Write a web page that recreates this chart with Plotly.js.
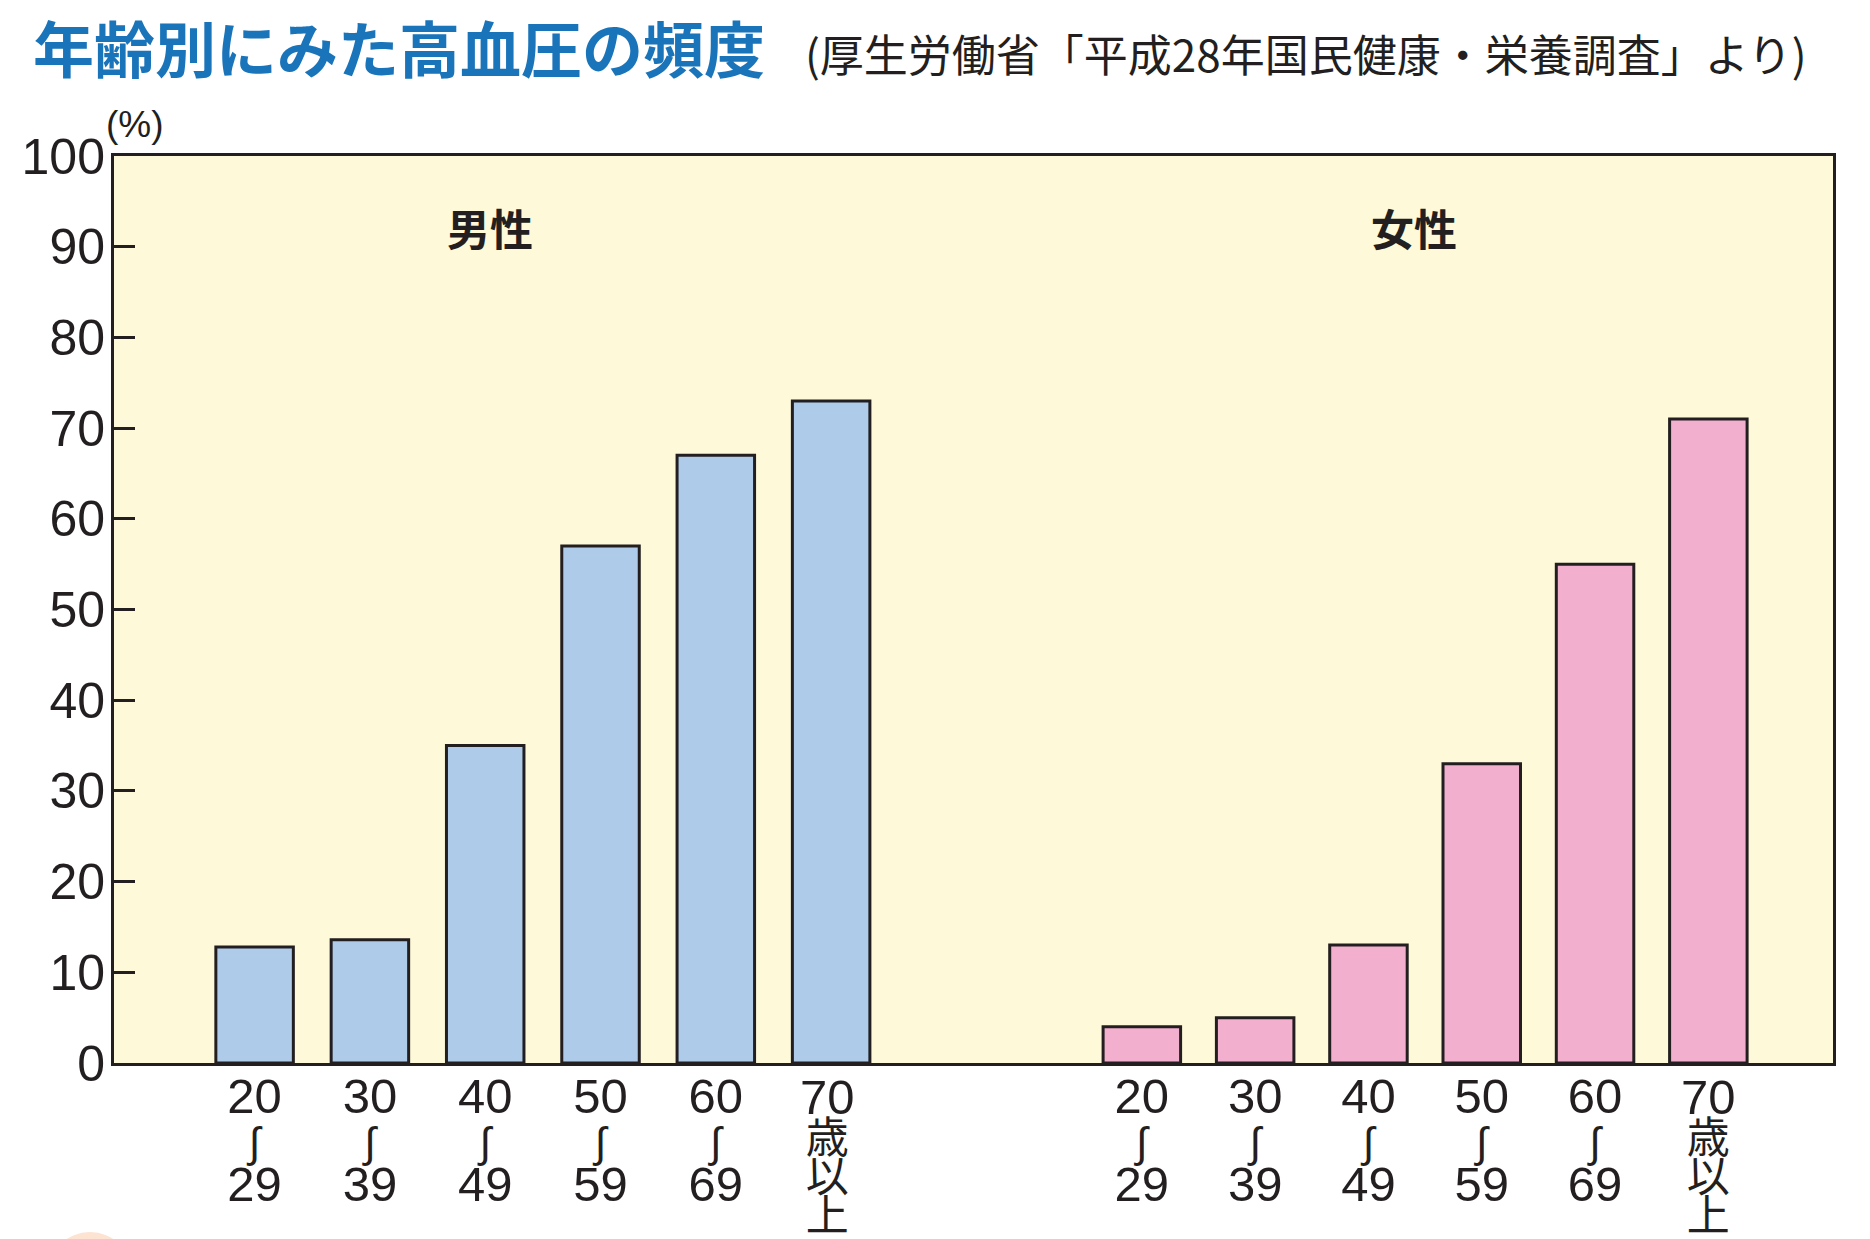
<!DOCTYPE html>
<html>
<head>
<meta charset="utf-8">
<script src="https://cdn.plot.ly/plotly-3.0.1.min.js"></script>
<style>
  html, body { margin: 0; padding: 0; background: #ffffff; }
  #chart { width: 1870px; height: 1239px; }
</style>
</head>
<body>
<div id="chart"></div>
<script>
// ---- data ----
const titleMain = "年齢別にみた高血圧の頻度";
const titleSub = "(厚生労働省「平成28年国民健康・栄養調査」より)";
const groupNames = ["男性", "女性"];
const ageGroups = ["20～29", "30～39", "40～49", "50～59", "60～69", "70歳以上"];
const ageTickLines = [
  ["20", "∫", "29"],
  ["30", "∫", "39"],
  ["40", "∫", "49"],
  ["50", "∫", "59"],
  ["60", "∫", "69"],
  ["70", "歳", "以", "上"]
];
const maleValues = [12.8, 13.6, 35.0, 57.0, 67.0, 73.0];
const femaleValues = [4.0, 5.0, 13.0, 33.0, 55.0, 71.0];
const yTickValues = [0, 10, 20, 30, 40, 50, 60, 70, 80, 90, 100];
const yUnitLabel = "(%)";

// ---- layout helpers ----
const malePitch = 1.0177;
const femaleOffset = 7.831;
const maleX = ageGroups.map((_, i) => i * malePitch);
const femaleX = ageGroups.map((_, i) => i + femaleOffset);

const isCJK = s => /[\u3000-\u9fff]/.test(s);
function spanText(lines) {
  return lines.map(s => {
    let size = 49;
    if (isCJK(s)) size = 43;
    else if (s === "∫") size = 42;
    return '<span style="font-size:' + size + 'px">' + s + '</span>';
  }).join('<br>');
}
// labels with CJK rows are drawn as annotations (tighter row spacing)
const tickTexts = ageTickLines.map(l => (l.some(isCJK) ? "" : spanText(l)));

const ink = "#231f20";

const traces = [
  {
    type: "bar",
    name: groupNames[0],
    x: maleX,
    y: maleValues,
    width: 0.684,
    marker: { color: "#aecce9", line: { color: ink, width: 3 } },
    hoverinfo: "skip"
  },
  {
    type: "bar",
    name: groupNames[1],
    x: femaleX,
    y: femaleValues,
    width: 0.684,
    marker: { color: "#f3afce", line: { color: ink, width: 3 } },
    hoverinfo: "skip"
  }
];

const L = 114, R = 37, T = 156, B = 176;
const W = 1870, H = 1239;
const PW = W - L - R, PH = H - T - B;
const px = v => (v - L) / PW;
const py = v => 1 - (v - T) / PH;

const annotations = [
  {
    xref: "paper", yref: "paper", x: px(31), y: py(46.5),
    xanchor: "left", yanchor: "middle", showarrow: false,
    text: "<b>" + titleMain + "</b>",
    font: { family: "Noto Sans CJK JP, sans-serif", size: 61, color: "#1a74ba" }
  },
  {
    xref: "paper", yref: "paper", x: px(803), y: py(53),
    xanchor: "left", yanchor: "middle", showarrow: false,
    text: titleSub,
    font: { family: "Noto Sans CJK JP, sans-serif", size: 44, color: ink }
  },
  {
    xref: "paper", yref: "paper", x: px(135), y: py(125),
    xanchor: "center", yanchor: "middle", showarrow: false,
    text: yUnitLabel,
    font: { family: "Liberation Sans, sans-serif", size: 37, color: ink }
  },
  {
    xref: "paper", yref: "paper", x: px(490), y: py(226.5),
    xanchor: "center", yanchor: "middle", showarrow: false,
    text: "<b>" + groupNames[0] + "</b>",
    font: { family: "Noto Sans CJK JP, sans-serif", size: 43, color: ink }
  },
  {
    xref: "paper", yref: "paper", x: px(1414), y: py(226.5),
    xanchor: "center", yanchor: "middle", showarrow: false,
    text: "<b>" + groupNames[1] + "</b>",
    font: { family: "Noto Sans CJK JP, sans-serif", size: 43, color: ink }
  }
];
ageTickLines.forEach((lines, i) => {
  if (!lines.some(isCJK)) return;
  [maleX[i] - 0.03, femaleX[i]].forEach(xv => {
    annotations.push({
      xref: "x", yref: "paper", x: xv, y: py(1069),
      xanchor: "center", yanchor: "top", showarrow: false,
      borderpad: 0,
      text: spanText(lines),
      font: { family: "Liberation Sans, Noto Sans CJK JP, sans-serif", size: 30, color: ink }
    });
  });
});

const layout = {
  width: W,
  height: H,
  margin: { l: L, r: R, t: T, b: B },
  paper_bgcolor: "#ffffff",
  plot_bgcolor: "#fef9d9",
  showlegend: false,
  bargap: 0,
  xaxis: {
    type: "linear",
    range: [(L - 254.6) / 113.3, (W - R - 254.6) / 113.3],
    showgrid: false,
    zeroline: false,
    showline: true,
    linecolor: ink,
    linewidth: 3,
    mirror: true,
    ticks: "",
    tickvals: maleX.concat(femaleX),
    ticktext: tickTexts.concat(tickTexts),
    tickfont: { family: "Liberation Sans, Arial, Noto Sans CJK JP, sans-serif", size: 34, color: ink },
    ticklabelstandoff: 6,
    fixedrange: true
  },
  yaxis: {
    range: [0, 100],
    showgrid: false,
    zeroline: false,
    showline: true,
    linecolor: ink,
    linewidth: 3,
    mirror: true,
    ticks: "inside",
    ticklen: 21,
    tickwidth: 3,
    tickcolor: ink,
    tickvals: yTickValues,
    ticktext: yTickValues.map(String),
    tickfont: { family: "Liberation Sans, Arial, sans-serif", size: 50, color: ink },
    ticklabelstandoff: -4,
    fixedrange: true
  },
  annotations: annotations,
  shapes: [
    {
      type: "circle", xref: "paper", yref: "paper", layer: "below",
      x0: px(48), x1: px(132), y0: py(1316), y1: py(1232),
      fillcolor: "#fde3d2", line: { width: 0 }
    }
  ]
};

Plotly.newPlot("chart", traces, layout, { displayModeBar: false, staticPlot: true });
</script>
</body>
</html>
